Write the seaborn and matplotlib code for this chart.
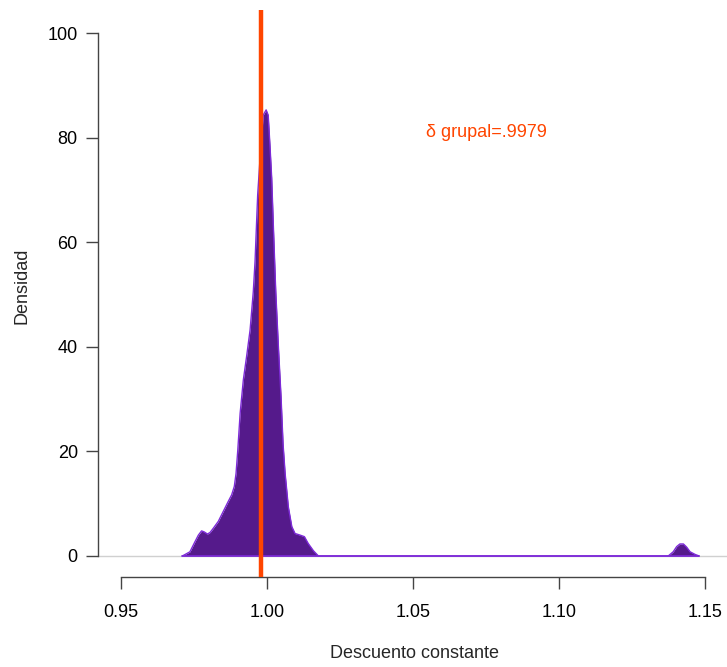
import matplotlib
matplotlib.use("Agg")
import matplotlib.pyplot as plt
import seaborn as sns
import pandas as pd

# Kernel density of the constant discount factor (x) and its density (y)
descuento = [0.9709, 0.9735, 0.9752, 0.9764, 0.9775, 0.9784, 0.9795, 0.9804,
             0.9815, 0.9832, 0.9849, 0.9866, 0.9878, 0.9887, 0.9893, 0.9899,
             0.9907, 0.9918, 0.9929, 0.9941, 0.9952, 0.9958, 0.9967, 0.9977,
             0.9986, 0.9996, 1.0003, 1.0009, 1.0015, 1.0021, 1.0029, 1.0038,
             1.0047, 1.0054, 1.0061, 1.0072, 1.0084, 1.0095, 1.0112, 1.0127,
             1.0140, 1.0158, 1.0175, 1.1373, 1.1390, 1.1402, 1.1413, 1.1425,
             1.1436, 1.1448, 1.1465, 1.1479]
densidad = [0.0, 0.8, 2.7, 4.0, 4.8, 4.6, 4.2, 4.5,
            5.3, 6.6, 8.5, 10.4, 11.7, 13.3, 15.8, 20.3,
            27.3, 33.7, 38.1, 43.2, 50.5, 56.3, 69.0, 77.6,
            84.3, 85.3, 84.3, 78.6, 72.3, 62.7, 50.5, 40.0,
            30.5, 21.4, 15.8, 9.4, 5.6, 4.3, 4.0, 3.7,
            2.4, 1.0, 0.0, 0.0, 0.8, 1.8, 2.3, 2.3,
            1.7, 0.8, 0.3, 0.0]

delta_grupal = 0.9979
etiqueta = "\u03b4 grupal=.9979"
x_ticks = [0.95, 1.00, 1.05, 1.10, 1.15]
y_ticks = [0, 20, 40, 60, 80, 100]

df = pd.DataFrame({"descuento": descuento, "densidad": densidad})

sns.set_style("white")
plt.rcParams["font.family"] = ["Liberation Sans", "DejaVu Sans"]

W, H = 727, 667
fig = plt.figure(figsize=(W / 100, H / 100), dpi=100)
ax = fig.add_axes([98 / W, (H - 577) / H, (W - 98) / W, (577 - 10) / H])

# plot region in data units
px_per_x = 2920.0
px_per_y = 5.23
ax.set_xlim(0.95 + (98 - 121.3) / px_per_x, 0.95 + (727 - 121.3) / px_per_x)
ax.set_ylim((556 - 577) / px_per_y, (556 - 10) / px_per_y)

# zero reference line
ax.axhline(0, color="#d0d0d0", lw=1.0, zorder=1)

# filled density polygon with a lighter purple border
ax.fill_between(df["descuento"], df["densidad"], 0, color="#551A8B", lw=0, zorder=2)
sns.lineplot(data=df, x="descuento", y="densidad", ax=ax, sort=False,
             estimator=None, color="#7D2AD8", lw=1.0, zorder=3)
ax.plot([df["descuento"].iloc[0], df["descuento"].iloc[-1]], [0, 0],
        color="#7D2AD8", lw=1.2, zorder=3)

# group discount factor
ax.axvline(delta_grupal, color="#FF4500", lw=3.2, zorder=4)
ax.text(1.0752, 81.0, etiqueta, color="#FF4500", fontsize=13,
        ha="center", va="center")

# R-style detached axes
for s in ["top", "right"]:
    ax.spines[s].set_visible(False)
ax.spines["left"].set_bounds(0, 100)
ax.spines["bottom"].set_bounds(0.95, 1.15)
for s in ["left", "bottom"]:
    ax.spines[s].set_color("#444444")
    ax.spines[s].set_linewidth(1.0)
ax.spines["bottom"].set_position(("data", (556 - 577) / px_per_y))

ax.set_xticks(x_ticks)
ax.set_xticklabels([f"{v:.2f}" for v in x_ticks])
ax.set_yticks(y_ticks)
ax.set_yticklabels([str(v) for v in y_ticks])
ax.tick_params(axis="both", direction="out", length=8.5, width=1.0,
               color="#444444", labelsize=13, labelcolor="black")
ax.tick_params(axis="x", pad=11, bottom=True)
ax.tick_params(axis="y", pad=6, left=True)

ax.set_xlabel("")
ax.set_ylabel("")
fig.text(414 / W, 1 - 653 / H, "Descuento constante", fontsize=13,
         ha="center", va="center")
fig.text(21.7 / W, 1 - 286 / H, "Densidad", fontsize=13, rotation=90,
         ha="center", va="center")

fig.savefig("out.png", dpi=100)
